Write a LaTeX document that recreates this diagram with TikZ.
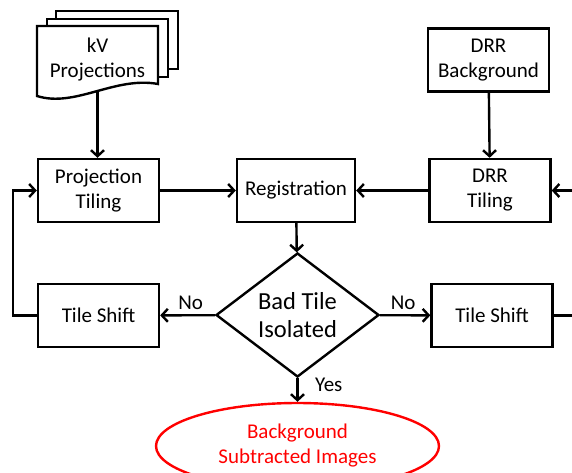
\documentclass[tikz,border=0pt]{standalone}
\usepackage{fontspec}
\setmainfont{Carlito}
\usetikzlibrary{arrows.meta, positioning, calc, shapes.geometric}
\tikzset{
  blk/.style={draw, line width=2.4pt, fill=white, align=center, minimum width=121pt, minimum height=63pt,
    inner sep=2pt, font=\fontsize{21}{25}\selectfont},
  dec/.style={draw, diamond, line width=2.4pt, align=center, minimum width=163pt, minimum height=98pt,
    inner sep=0pt, font=\fontsize{24.5}{28}\selectfont},
  result/.style={draw=red, ellipse, line width=2.4pt, text=red, align=center, minimum width=283pt,
    minimum height=86pt, font=\fontsize{21}{25}\selectfont},
  arr/.style={-{Straight Barb[length=6pt, width=13pt, line width=2.4pt]}, line width=2.4pt},
  lbl/.style={font=\fontsize{21}{24}\selectfont},
  sheet/.style={draw, line width=2.4pt, fill=white},
}

\begin{document}
\begin{tikzpicture}[x=1pt, y=-1pt]
    \useasboundingbox (0,0) rectangle (572,472);
    % stack of kV projections
    \draw[sheet] (56,11) rectangle (178,69);
    \draw[sheet] (47,19) rectangle (168,77);
    \draw[sheet] (37,26) -- (158,26) -- (158,84) .. controls (115,76) and (75,108) .. (37,96) -- cycle;
    \node[align=center, minimum width=121pt, minimum height=64pt, inner sep=0pt,
      font=\fontsize{21}{25}\selectfont] (kv) at (97.5,60) {kV\\Projections};

    \node[blk] (pt) at (98.5,190.5) {Projection\\Tiling};
    \node[blk, minimum width=118pt] (reg) at (296,190.5) {Registration};
    \node[blk] (bg) at (488.5,60) {DRR\\Background};
    \node[blk] (drr) at (490,190.5) {DRR\\Tiling};
    \node[dec] (bad) at (297.5,315) {Bad Tile\\Isolated};
    \node[blk] (tsl) at (98.5,315.5) {Tile Shift};
    \node[blk] (tsr) at (492,315.5) {Tile Shift};
    \node[result] (res) at (297.5,446) {Background\\Subtracted Images};

    \coordinate (rin) at (572,190.5);
    \coordinate (rout) at (572,315.5);

    \draw[arr] (kv.south) -- (kv.south |- pt.north);
    \draw[arr] (bg) -- (drr);
    \draw[arr] (pt) -- (reg);
    \draw[arr] (drr) -- (reg);
    \draw[arr] (rin) -- (drr);
    \draw[arr] (reg) -- (bad);
    \draw[arr] (bad) -- node[lbl, above=1pt, xshift=3pt] {No} (tsl);
    \draw[arr] (bad) -- node[lbl, above=1pt, xshift=-2pt] {No} (tsr);
    \draw[line width=2.4pt] (tsr) -- (rout);
    \draw[arr] (tsl.west) -- ++(-24,0) |- (pt.west);
    \draw[arr] (bad) -- node[lbl, right=13pt, yshift=5pt] {Yes} (res);
  \end{tikzpicture}
\end{document}
